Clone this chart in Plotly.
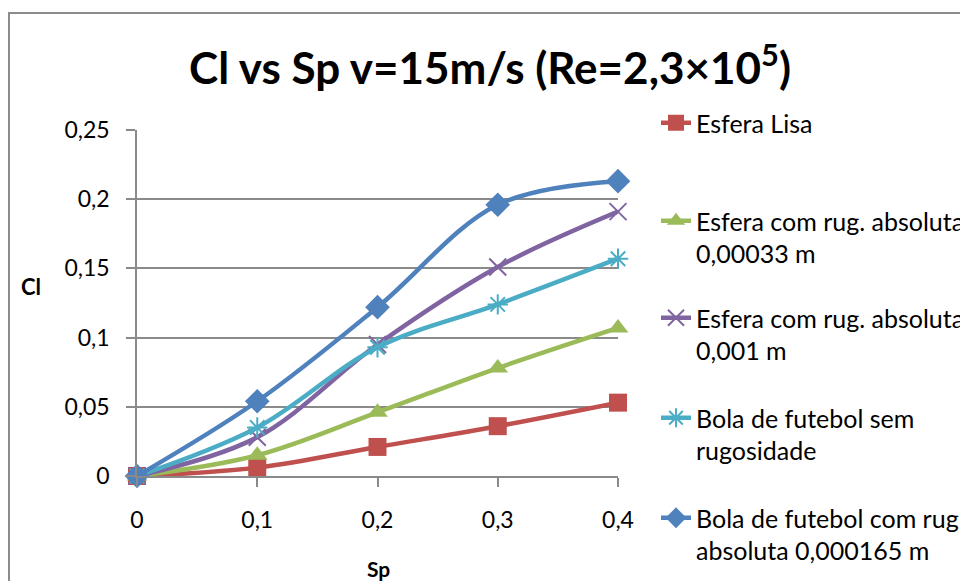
import plotly.graph_objects as go

# Spin parameter values
sp = [0, 0.1, 0.2, 0.3, 0.4]

# Lift coefficient for each body
cl_esfera_lisa = [0, 0.006, 0.021, 0.036, 0.053]
cl_rug_000033 = [0, 0.015, 0.046, 0.078, 0.107]
cl_rug_0001 = [0, 0.028, 0.095, 0.151, 0.191]
cl_bola_lisa = [0, 0.035, 0.093, 0.124, 0.157]
cl_bola_rug = [0, 0.054, 0.122, 0.196, 0.213]

names = [
    "Esfera Lisa",
    "Esfera com rug. absoluta<br>0,00033 m",
    "Esfera com rug. absoluta<br>0,001 m",
    "Bola de futebol sem<br>rugosidade",
    "Bola de futebol com rug<br>absoluta 0,000165 m",
]
colors = ["#C0504D", "#9BBB59", "#8064A2", "#4BACC6", "#4F81BD"]
symbols = ["square", "triangle-up", "x-thin-open", "asterisk-open", "diamond"]
sizes = [18, 18, 17, 17, 19]
series = [cl_esfera_lisa, cl_rug_000033, cl_rug_0001, cl_bola_lisa, cl_bola_rug]

y_ticks = [0, 0.05, 0.1, 0.15, 0.2, 0.25]
y_ticktext = ["0", "0,05", "0,1", "0,15", "0,2", "0,25"]
x_ticks = [0, 0.1, 0.2, 0.3, 0.4]
x_ticktext = ["0", "0,1", "0,2", "0,3", "0,4"]

FONT = "Lato"
GRID = "#8A8A8A"

# plot area in pixels: x 137..618, y 130..476
L, R, T, B = 137, 618, 130, 476
W, H = 960, 581


def px_x(p):
    return (p - L) / (R - L)


def px_y(p):
    return (B - p) / (B - T)


fig = go.Figure()
legend_rows = [100, 198, 295, 395, 495]
for i in range(5):
    sym = symbols[i]
    open_sym = sym.endswith("open")
    fig.add_trace(go.Scatter(
        x=sp, y=series[i], name=names[i],
        mode="lines+markers",
        line=dict(color=colors[i], width=4.5, shape="spline"),
        marker=dict(symbol=sym, size=sizes[i], color=colors[i],
                    line=dict(color=colors[i], width=2 if open_sym else 0)),
        cliponaxis=False,
        legend="legend" if i == 0 else f"legend{i + 1}",
    ))

legends = {}
for i, row in enumerate(legend_rows):
    key = "legend" if i == 0 else f"legend{i + 1}"
    legends[key] = dict(
        x=px_x(656), y=px_y(row), xanchor="left", yanchor="top",
        valign="top", bgcolor="rgba(0,0,0,0)",
        font=dict(family=FONT, size=25, color="#000000"),
        itemwidth=30,
    )

fig.update_layout(
    width=W, height=H,
    margin=dict(l=L, r=W - R, t=T, b=H - B, autoexpand=False),
    paper_bgcolor="white", plot_bgcolor="white",
    separators=", ",
    showlegend=True,
    title=dict(
        text="<b>Cl vs Sp v=15m/s (Re=2,3×10<sup>5</sup>)</b>",
        x=490 / W, xanchor="center", y=1 - 69 / H, yanchor="middle",
        font=dict(family=FONT, size=44, color="#000000"),
    ),
    xaxis=dict(
        range=[0, 0.4], tickvals=x_ticks, ticktext=x_ticktext,
        showgrid=False, zeroline=False, automargin=False,
        showline=True, linecolor=GRID, linewidth=1.5,
        ticks="outside", ticklen=9, tickcolor=GRID, tickwidth=1.5,
        ticklabelstandoff=14,
        tickfont=dict(family=FONT, size=23, color="#000000"),
    ),
    yaxis=dict(
        range=[0, 0.25], tickvals=y_ticks, ticktext=y_ticktext,
        showgrid=True, gridcolor=GRID, gridwidth=1.5, zeroline=False,
        automargin=False,
        showline=True, linecolor=GRID, linewidth=1.5,
        ticks="outside", ticklen=9, tickcolor=GRID, tickwidth=1.5,
        ticklabelstandoff=12,
        tickfont=dict(family=FONT, size=23, color="#000000"),
    ),
    annotations=[
        dict(text="<b>Cl</b>", xref="paper", yref="paper",
             x=px_x(31), y=px_y(286), xanchor="center", yanchor="middle",
             showarrow=False, font=dict(family=FONT, size=22, color="#000000")),
        dict(text="<b>Sp</b>", xref="paper", yref="paper",
             x=px_x(378), y=px_y(568), xanchor="center", yanchor="middle",
             showarrow=False, font=dict(family=FONT, size=21, color="#000000")),
    ],
    shapes=[
        dict(type="rect", xref="paper", yref="paper",
             x0=px_x(9), x1=px_x(975), y0=px_y(13), y1=px_y(600),
             line=dict(color="#8C8C8C", width=2), layer="below"),
    ],
    **legends,
)

fig.write_html("out.html")
